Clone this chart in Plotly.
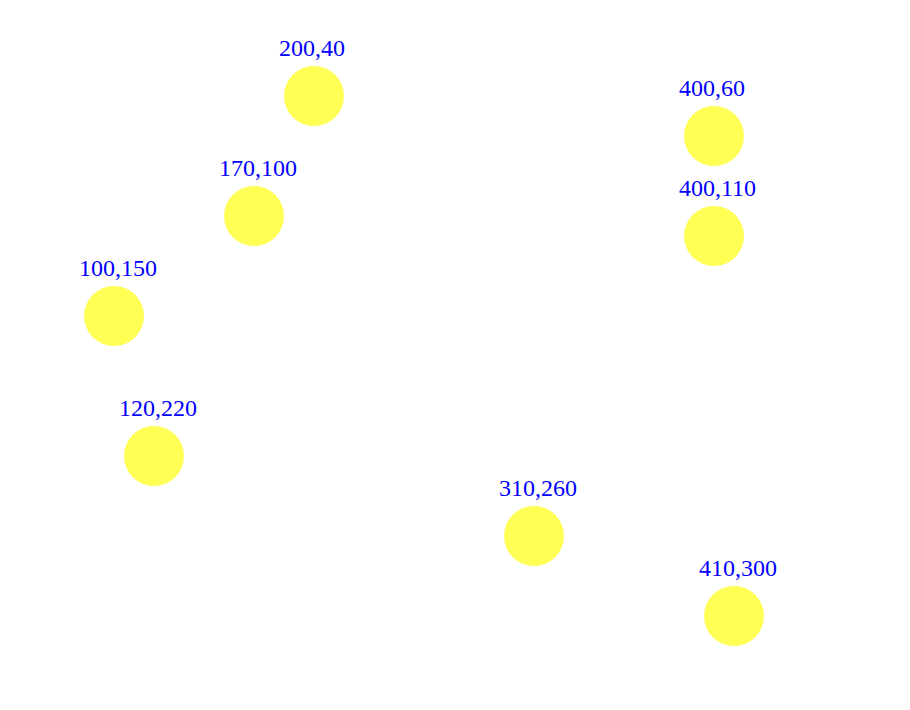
import plotly.graph_objects as go

xs = [200, 170, 100, 120, 310, 410, 400, 400]
ys = [40, 100, 150, 220, 260, 300, 60, 110]
labels = [f"{x},{y}" for x, y in zip(xs, ys)]

fig = go.Figure()
fig.add_trace(go.Scatter(
    x=xs, y=ys, mode="markers",
    marker=dict(size=60, color="rgb(255,255,85)", line=dict(width=0)),
    hoverinfo="skip", showlegend=False,
))
for x, y, t in zip(xs, ys, labels):
    fig.add_annotation(
        x=x, y=y, xref="x", yref="y", text=t, showarrow=False,
        xanchor="left", yanchor="middle", xshift=-36, yshift=48,
        borderpad=0,
        font=dict(family="Liberation Serif, Times New Roman, serif", size=24, color="rgb(0,0,255)"),
    )

fig.update_layout(
    width=910, height=710, margin=dict(l=0, r=0, t=0, b=0),
    paper_bgcolor="white", plot_bgcolor="white",
    xaxis=dict(range=[43, 498], visible=False, fixedrange=True),
    yaxis=dict(range=[347, -8], visible=False, fixedrange=True),
)
fig.write_html("out.html")
